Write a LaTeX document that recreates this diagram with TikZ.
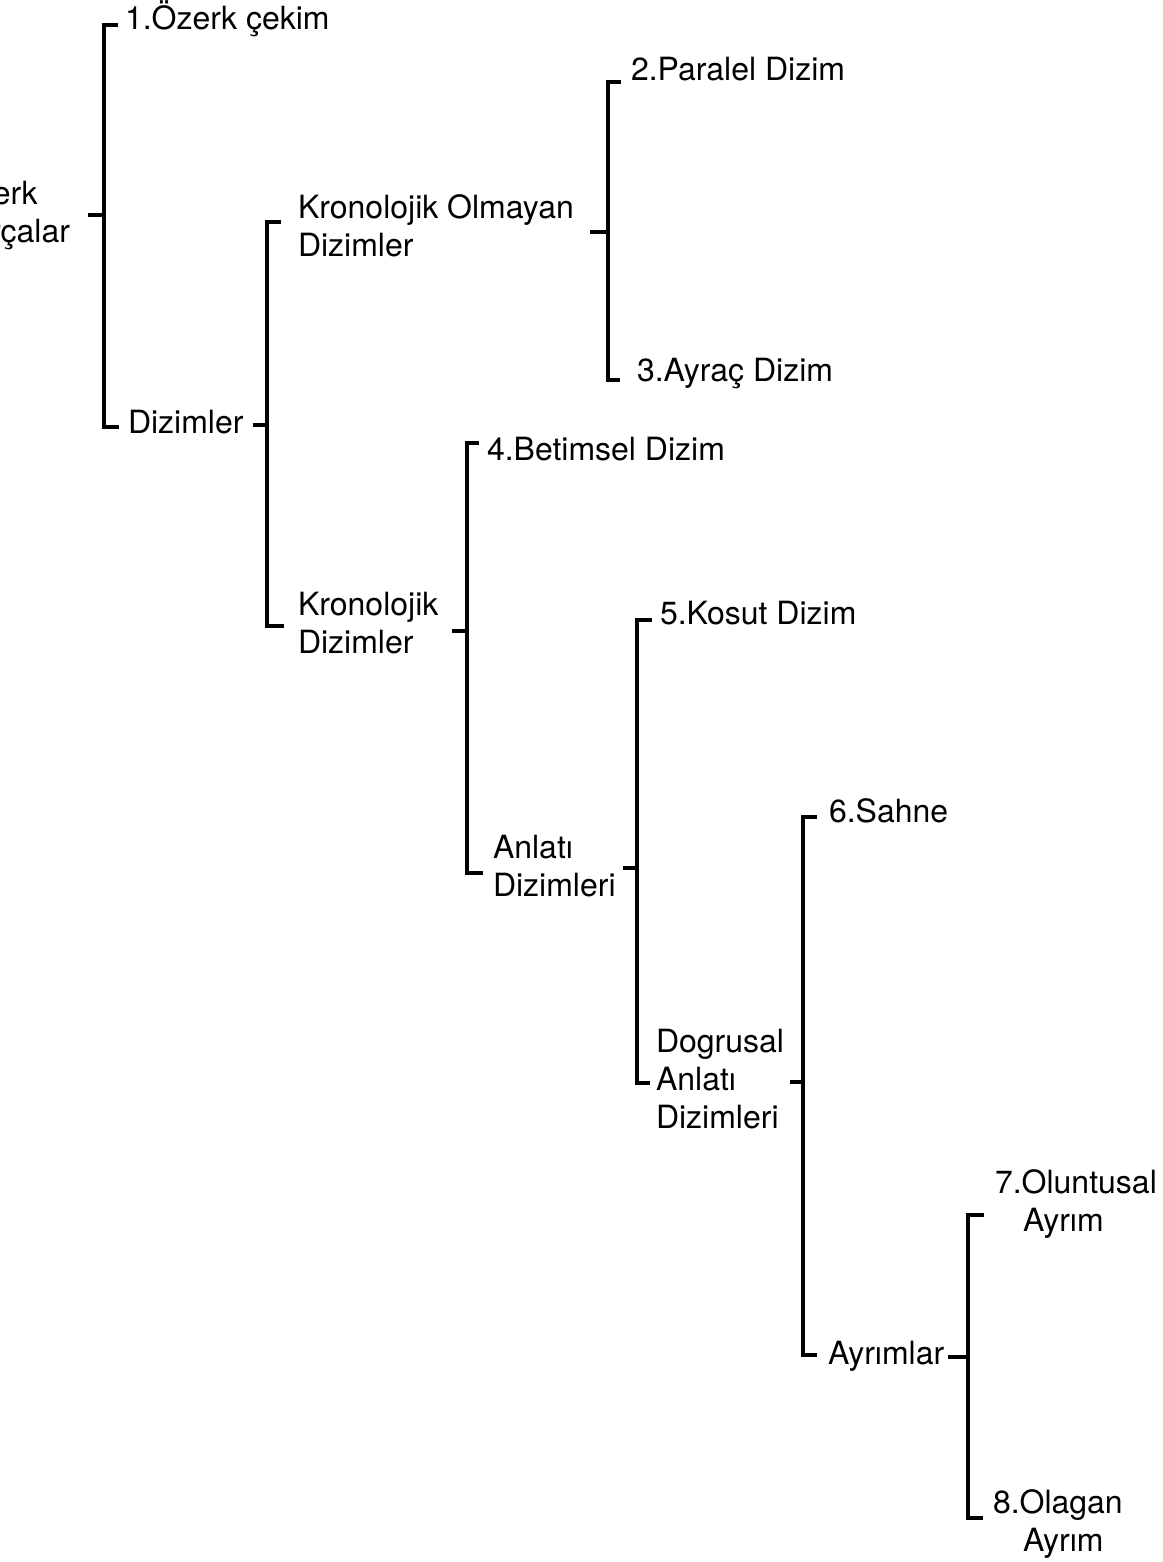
\documentclass[tikz,border=0pt]{standalone}
\usepackage{fontspec}
\setmainfont{TeX Gyre Heros}
\newcommand\treebracket[8]{%
  \coordinate (#1-tt) at (#5,#3);
  \coordinate (#1-st) at (#2,#3);
  \coordinate (#1-sb) at (#2,#4);
  \coordinate (#1-bt) at (#6,#4);
  \coordinate (#1-in) at (#7,#8);
  \coordinate (#1-jn) at (#2,#8);
  \draw[br] (#1-tt) -- (#1-st) -- (#1-sb) -- (#1-bt);
  \draw[br] (#1-in) -- (#1-jn);
}
\begin{document}
\begin{tikzpicture}[x=1pt,y=-1pt,
  br/.style={line width=3.2pt,line cap=butt,line join=miter,black},
  lbl/.style={anchor=base west,inner sep=0pt,outer sep=0pt,align=left,
    font=\fontsize{32}{38}\selectfont}]
\fill[white] (0,0) rectangle (1162,1562);
\useasboundingbox (0,0) rectangle (1162,1562);
\clip (0,0) rectangle (1162,1562);
% labels (multi-line labels: y is the baseline of the last line)
\node[lbl] (root) at (-48,243) {Özerk\\Parçalar};
\node[lbl] (t1) at (125,30) {1.Özerk çekim};
\node[lbl] (diz) at (128,433) {Dizimler};
\node[lbl] (kom) at (298,256) {Kronolojik Olmayan\\Dizimler};
\node[lbl] (kd) at (298,653) {Kronolojik\\Dizimler};
\node[lbl] (t2) at (631,81) {2.Paralel Dizim};
\node[lbl] (t3) at (637,381) {3.Ayraç Dizim};
\node[lbl] (t4) at (487,460) {4.Betimsel Dizim};
\node[lbl] (t5) at (660,624) {5.Kosut Dizim};
\node[lbl] (ad) at (493,896) {Anlatı\\Dizimleri};
\node[lbl] (t6) at (829,822) {6.Sahne};
\node[lbl] (dad) at (656,1128) {Dogrusal\\Anlatı\\Dizimleri};
\node[lbl] (ayr) at (828,1364) {Ayrımlar};
\node[lbl] (t7) at (995,1231) {7.Oluntusal\\\hspace*{28pt}Ayrım};
\node[lbl] (t8) at (993,1551) {8.Olagan\\\hspace*{30pt}Ayrım};
% brackets: name, spine x, top y, bottom y, top tick end, bottom tick end, stub start x, stub y
\treebracket{A}{104}{25}{427}{118}{119}{88}{215}
\treebracket{B}{267}{222}{626}{281}{284}{253}{425}
\treebracket{C}{608}{82}{380}{621}{620}{590}{232}
\treebracket{D}{467}{443}{873}{479}{483}{452}{631}
\treebracket{E}{637}{620}{1083}{652}{650}{623}{868}
\treebracket{F}{803}{817}{1355}{817}{817}{790}{1082}
\treebracket{G}{968}{1215}{1518}{984}{983}{948}{1357}
\end{tikzpicture}
\end{document}
